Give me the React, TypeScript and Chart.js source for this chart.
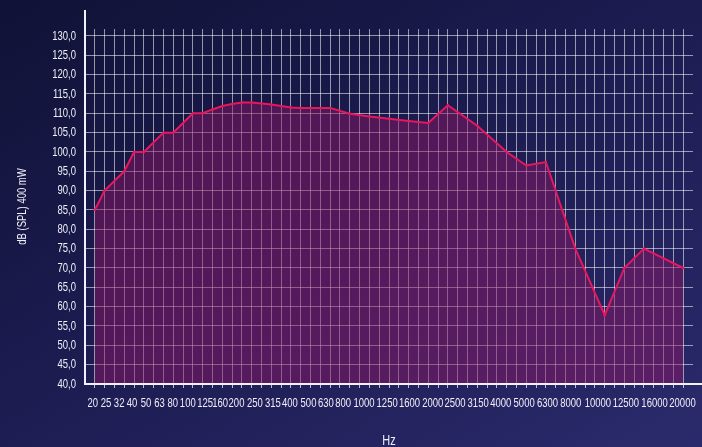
import React, { useEffect, useRef } from 'react';
import { Chart, registerables } from 'chart.js';

Chart.register(...registerables);

// 1/3-octave frequency labels shown under the axis
const freqLabels = [
  '20', '25', '32', '40', '50', '63', '80', '100', '125', '160', '200', '250', '315', '400', '500', '630',
  '800', '1000', '1250', '1600', '2000', '2500', '3150', '4000', '5000', '6300', '8000', '10000', '12500',
  '16000', '20000',
];
// where each label sits on the fine (1/6-octave) grid, in grid steps
const freqLabelPos = [
  -0.2, 1.15, 2.48, 3.8, 5.23, 6.6, 7.95, 9.48, 11.25, 12.78, 14.45, 16.32, 18.15, 19.89, 21.79, 23.56,
  25.32, 27.46, 29.81, 32.09, 34.47, 36.74, 39.09, 41.4, 43.78, 46.17, 48.54, 51.3, 54.15, 57.08, 59.93,
];
// measured points: grid step and level in dB SPL
const pointStep = [
  0, 1, 3, 4, 5, 7, 8, 10, 11, 12, 13, 14, 15, 16, 18, 20, 21, 24, 26, 28, 30, 32, 34, 36, 39, 42, 44, 46,
  49, 52, 54, 56, 60,
];
const splDb = [
  85, 90, 95, 100, 100, 105, 105, 110, 110, 111, 111.9, 112.4, 112.8, 112.8, 112.3, 111.5, 111.4, 111.4,
  109.9, 109.2, 108.6, 108, 107.5, 112.1, 106.8, 100, 96.5, 97.4, 75, 57.8, 70, 75, 70,
];
const yTicks = [40, 45, 50, 55, 60, 65, 70, 75, 80, 85, 90, 95, 100, 105, 110, 115, 120, 125, 130];
const gridSteps = [
  0, 1, 2, 3, 4, 5, 6, 7, 8, 9, 10, 11, 12, 13, 14, 15, 16, 17, 18, 19, 20, 21, 22, 23, 24, 25, 26, 27, 28,
  29, 30, 31, 32, 33, 34, 35, 36, 37, 38, 39, 40, 41, 42, 43, 44, 45, 46, 47, 48, 49, 50, 51, 52, 53, 54,
  55, 56, 57, 58, 59, 60,
];

const FONT = "'Liberation Sans', Arial, sans-serif";
const TEXT = '#f0eef8';
const GRID = 'rgba(255,255,255,0.55)';
const TEXT_SQUEEZE = 0.73; // the original uses a very narrow typeface

// draw all chart text horizontally condensed around its anchor point
const condense = {
  id: 'condense',
  beforeInit(chart: any) {
    const ctx = chart.ctx;
    const orig = ctx.fillText.bind(ctx);
    ctx.fillText = (text: string, x: number, y: number, maxWidth?: number) => {
      ctx.save();
      ctx.translate(x, y);
      ctx.scale(TEXT_SQUEEZE, 1);
      if (maxWidth === undefined) orig(text, 0, 0);
      else orig(text, 0, 0, maxWidth / TEXT_SQUEEZE);
      ctx.restore();
    };
  },
};

const axisLines = {
  id: 'axisLines',
  afterDatasetsDraw(chart: any) {
    const { ctx, chartArea: a, width } = chart;
    ctx.save();
    ctx.strokeStyle = '#f2f0fa';
    ctx.lineWidth = 2;
    ctx.beginPath();
    ctx.moveTo(a.left, 10);
    ctx.lineTo(a.left, a.bottom + 1);
    ctx.moveTo(a.left - 1, a.bottom);
    ctx.lineTo(width, a.bottom);
    ctx.stroke();
    ctx.restore();
  },
};

export default function App() {
  const ref = useRef<HTMLCanvasElement | null>(null);

  useEffect(() => {
    if (!ref.current) return;
    const chart = new Chart(ref.current, {
      type: 'line',
      data: {
        datasets: [
          {
            data: pointStep.map((s, i) => ({ x: s, y: splDb[i] })),
            borderColor: '#e8175d',
            borderWidth: 2,
            backgroundColor: 'rgba(145,22,100,0.47)',
            fill: 'start',
            tension: 0,
            pointRadius: 1.2,
            pointBackgroundColor: '#e8175d',
            pointBorderWidth: 0,
          },
        ],
      },
      options: {
        animation: false,
        responsive: false,
        maintainAspectRatio: false,
        devicePixelRatio: 1,
        layout: { padding: { top: 29, right: 9, bottom: 0, left: 0 } },
        plugins: { legend: { display: false }, tooltip: { enabled: false } },
        scales: {
          x: {
            type: 'linear',
            position: 'bottom',
            weight: 0,
            min: -1,
            max: 61,
            bounds: 'data',
            afterBuildTicks: (s: any) => {
              s.ticks = gridSteps.map((v) => ({ value: v }));
            },
            afterFit: (s: any) => {
              s.height = 4;
            },
            grid: { color: GRID, tickColor: 'rgba(255,255,255,0.7)', tickLength: 4, drawTicks: true },
            border: { display: false },
            ticks: { display: false },
          },
          xl: {
            type: 'linear',
            position: 'bottom',
            weight: 1,
            min: -1,
            max: 61,
            bounds: 'data',
            afterBuildTicks: (s: any) => {
              s.ticks = freqLabelPos.map((v) => ({ value: v }));
            },
            afterFit: (s: any) => {
              s.height = 59;
            },
            grid: { display: false, drawTicks: true, tickLength: 8 },
            border: { display: false },
            ticks: {
              autoSkip: false,
              maxRotation: 0,
              minRotation: 0,
              padding: 0,
              color: TEXT,
              font: { family: FONT, size: 13, lineHeight: 1.1 },
              callback: (_v: any, i: number) => freqLabels[i],
            },
            title: {
              display: true,
              text: 'Hz',
              color: TEXT,
              font: { family: FONT, size: 15, lineHeight: 0.8 },
              padding: { top: 0, bottom: 0 },
            },
          },
          y: {
            type: 'linear',
            min: 40,
            max: 131.8,
            bounds: 'data',
            afterBuildTicks: (s: any) => {
              s.ticks = yTicks.map((v) => ({ value: v }));
            },
            afterFit: (s: any) => {
              s.width = 85;
            },
            grid: { color: GRID, drawTicks: false },
            border: { display: false },
            ticks: {
              color: TEXT,
              padding: 9,
              font: { family: FONT, size: 13 },
              callback: (v: any) => Number(v).toFixed(1).replace('.', ','),
            },
            title: {
              display: true,
              text: 'dB (SPL) 400 mW',
              color: TEXT,
              font: { family: FONT, size: 13 },
              padding: { top: 15, bottom: 0 },
            },
          },
        },
      } as any,
      plugins: [condense, axisLines],
    });
    return () => chart.destroy();
  }, []);

  return (
    <div
      style={{
        position: 'fixed',
        left: 0,
        top: 0,
        width: 702,
        height: 447,
        background: 'linear-gradient(150deg, #111236 0%, #1a1a4d 40%, #2b2a6c 100%)',
      }}
    >
      <canvas ref={ref} width={702} height={447} style={{ display: 'block' }} />
    </div>
  );
}
